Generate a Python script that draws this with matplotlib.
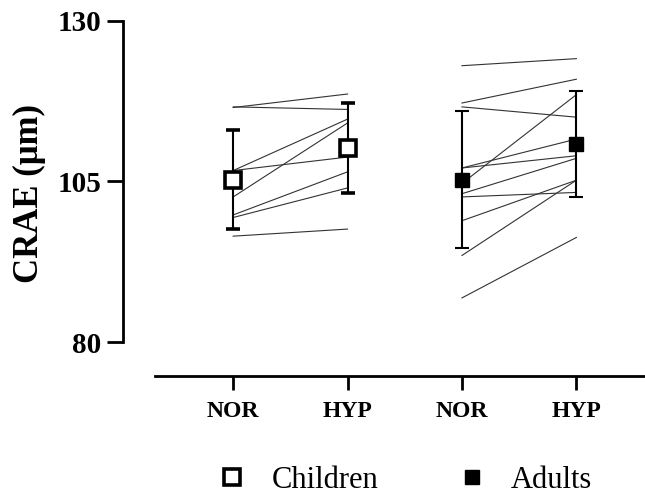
import numpy as np
import matplotlib
matplotlib.use('Agg')
import matplotlib.pyplot as plt
from matplotlib.lines import Line2D

# Datos individuales (CRAE en micras) por condicion
ninos_nor = [116.5, 116.6, 106.7, 106.7, 102.6, 99.8, 99.4, 96.5]
ninos_hyp = [118.6, 116.2, 108.8, 114.7, 114.1, 106.5, 104.0, 97.6]
adultos_nor = [123.0, 117.2, 116.6, 107.1, 107.1, 104.7, 103.1, 102.6, 98.9, 93.5, 86.9]
adultos_hyp = [124.1, 120.9, 115.0, 111.6, 109.0, 118.5, 108.6, 103.3, 105.2, 105.2, 96.3]

# Media y desviacion estandar por grupo
ninos_media = [105.3, 110.2]
ninos_sd = [7.7, 7.05]
adultos_media = [105.3, 110.8]
adultos_sd = [10.6, 8.2]

etiquetas_x = ['NOR', 'HYP', 'NOR', 'HYP']
ticks_y = [80, 105, 130]

plt.rcParams['font.family'] = 'Liberation Serif'

fig = plt.figure(figsize=(6.45, 4.96), dpi=100)
ax = fig.add_axes([0.1902, 0.3099, 0.8098, 0.6484])

# Ejes estilo Prism (el eje x separado del eje y)
for s in ['top', 'right']:
    ax.spines[s].set_visible(False)
ax.spines['left'].set_linewidth(2)
ax.spines['bottom'].set_linewidth(2)
ax.spines['bottom'].set_position(('outward', 24))

# Lineas individuales
for a, b in zip(ninos_nor, ninos_hyp):
    ax.plot([0, 1], [a, b], color='#333333', lw=0.8, zorder=1, clip_on=False)
for a, b in zip(adultos_nor, adultos_hyp):
    ax.plot([2, 3], [a, b], color='#333333', lw=0.8, zorder=1, clip_on=False)

# Medias con barras de error
ax.errorbar([0, 1], ninos_media, yerr=ninos_sd, fmt='s', ms=11, mfc='white',
            mec='black', mew=2.6, ecolor='black', elinewidth=1.5, capsize=5,
            capthick=1.5, zorder=3, clip_on=False)
ax.errorbar([2, 3], adultos_media, yerr=adultos_sd, fmt='s', ms=10, mfc='black',
            mec='black', ecolor='black', elinewidth=1.5, capsize=5,
            capthick=1.5, zorder=3, clip_on=False)

ax.set_xlim(-0.966, 3.6)
ax.set_ylim(80, 130)
ax.spines['bottom'].set_bounds(-0.68, 3.6)
ax.set_yticks(ticks_y)
ax.set_yticklabels([str(t) for t in ticks_y], fontsize=21, fontweight='bold')
ax.set_xticks(range(4))
ax.set_xticklabels(etiquetas_x, fontsize=17, fontweight='bold')

ax.tick_params(axis='y', length=11.5, width=2, pad=4)
ax.tick_params(axis='x', length=10, width=2, pad=8)

ax.set_ylabel('CRAE (μm)', fontsize=25, fontweight='bold')
ax.yaxis.set_label_coords(-0.147, 0.463)

# Leyenda
handles = [
    Line2D([], [], ls='none', marker='s', ms=11, mfc='white', mec='black', mew=2.6),
    Line2D([], [], ls='none', marker='s', ms=10, mfc='black', mec='black'),
]
fig.legend(handles, ['Children', 'Adults'], loc='lower left', ncol=2,
           frameon=False, fontsize=22, handlelength=1, handletextpad=0.79,
           columnspacing=2.54, borderpad=0, borderaxespad=0,
           bbox_to_anchor=(0.3367, 0.002))

fig.savefig('out.png', dpi=100)
